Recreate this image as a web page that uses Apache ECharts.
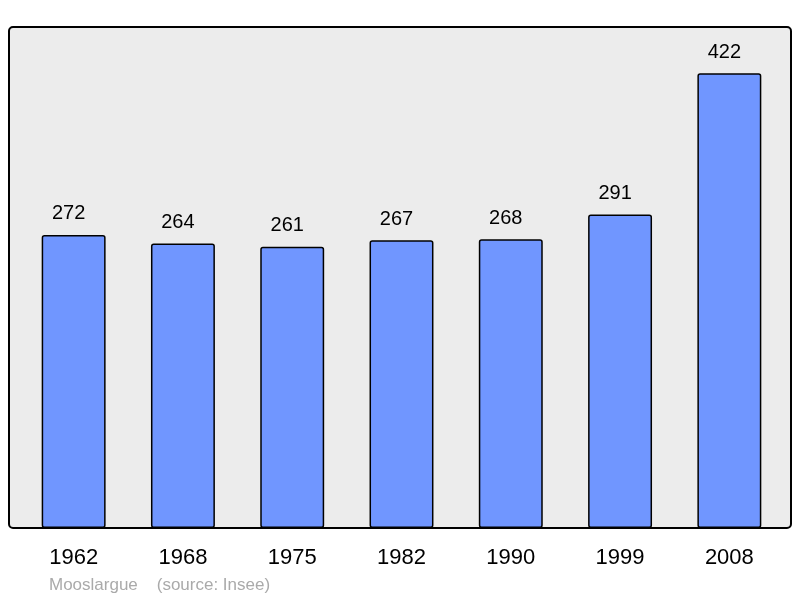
<!DOCTYPE html>
<html><head><meta charset="utf-8">
<script src="https://cdn.jsdelivr.net/npm/echarts@6/dist/echarts.min.js"></script>
<style>html,body{margin:0;padding:0;background:#fff}#c{width:800px;height:598px}</style>
</head><body><div id="c"></div>
<script>
const years = ['1962','1968','1975','1982','1990','1999','2008'];
const population = [272, 264, 261, 267, 268, 291, 422];
const footer = 'Mooslargue    (source: Insee)';

const chart = echarts.init(document.getElementById('c'));
chart.setOption({
  animation: false,
  graphic: [
    { type: 'rect', z: -10, shape: { x: 9, y: 27, width: 782, height: 501, r: 4 },
      style: { fill: '#ececec', stroke: '#000', lineWidth: 2 } },
    { type: 'text', left: 49, top: 577,
      style: { text: footer, fill: '#aaaaaa', font: '17px "Liberation Sans", Arial, sans-serif' } }
  ],
  grid: { left: 19, right: 16, top: 27, bottom: 70 },
  xAxis: {
    type: 'category', data: years,
    axisLine: { show: false }, axisTick: { show: false },
    axisLabel: { color: '#000', fontSize: 22, margin: 19, fontFamily: '"Liberation Sans", Arial, sans-serif' }
  },
  yAxis: { type: 'value', min: 0, max: 465, show: false, splitLine: { show: false } },
  series: [{
    type: 'bar', data: population, barWidth: '58.5%',
    itemStyle: { color: '#7096ff', borderColor: '#000', borderWidth: 1.5, borderRadius: 2 },
    label: { show: true, position: 'top', distance: 11, offset: [-5, 0], color: '#000', fontSize: 20,
      fontFamily: '"Liberation Sans", Arial, sans-serif' }
  }]
});
</script></body></html>
